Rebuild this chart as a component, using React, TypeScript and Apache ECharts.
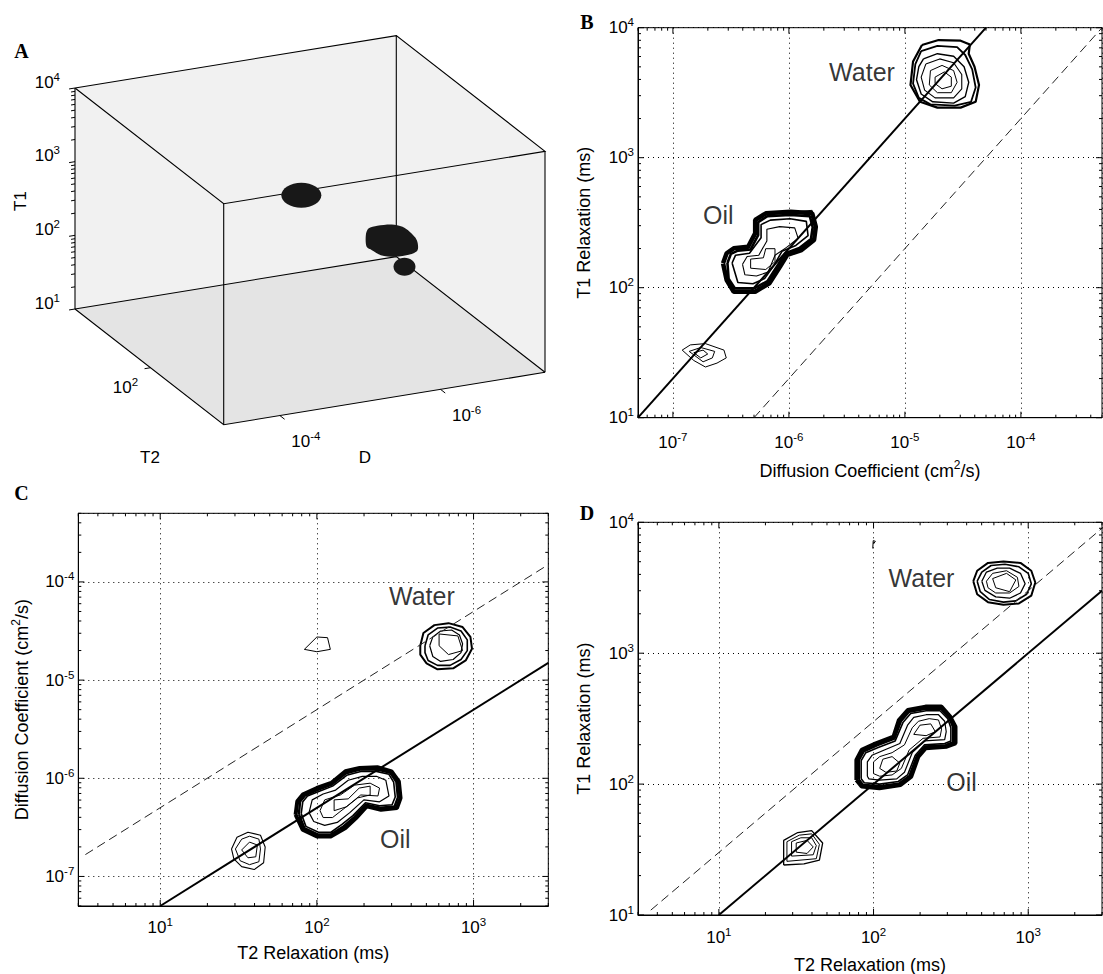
import { useEffect, useRef } from 'react';
import * as echarts from 'echarts';

const FONT = '"Liberation Sans", Arial, Helvetica, sans-serif';
const SERIF = '"Liberation Serif", "Times New Roman", serif';

// ---------- axis ranges ----------
const D_RANGE = [5e-8, 5e-4]; // cm2/s
const T1_RANGE = [10, 1e4]; // ms
const T2_RANGE = [3, 3000]; // ms

// ---------- Panel B : contours in [log10 D, log10 T1] ----------
const bWaterRings = [
  [[-4.853, 3.867], [-4.71, 3.905], [-4.52, 3.9], [-4.44, 3.87], [-4.45, 3.8], [-4.4, 3.7], [-4.361, 3.56], [-4.39, 3.43], [-4.52, 3.385], [-4.72, 3.385], [-4.87, 3.43], [-4.952, 3.559], [-4.93, 3.74], [-4.853, 3.867]],
  [[-4.86, 3.82], [-4.72, 3.86], [-4.55, 3.85], [-4.48, 3.79], [-4.42, 3.68], [-4.39, 3.54], [-4.43, 3.43], [-4.57, 3.4], [-4.78, 3.41], [-4.88, 3.46], [-4.93, 3.57], [-4.91, 3.72], [-4.86, 3.82]],
  [[-4.84, 3.76], [-4.72, 3.8], [-4.58, 3.78], [-4.49, 3.7], [-4.45, 3.58], [-4.48, 3.47], [-4.58, 3.42], [-4.76, 3.43], [-4.86, 3.49], [-4.9, 3.6], [-4.88, 3.7], [-4.84, 3.76]],
  [[-4.82, 3.72], [-4.7, 3.76], [-4.58, 3.73], [-4.51, 3.64], [-4.51, 3.53], [-4.58, 3.46], [-4.74, 3.46], [-4.83, 3.52], [-4.86, 3.62], [-4.82, 3.72]],
  [[-4.78, 3.67], [-4.68, 3.71], [-4.58, 3.67], [-4.55, 3.58], [-4.6, 3.5], [-4.72, 3.5], [-4.79, 3.56], [-4.78, 3.67]],
  [[-4.74, 3.62], [-4.66, 3.66], [-4.6, 3.62], [-4.6, 3.55], [-4.68, 3.53], [-4.74, 3.57], [-4.74, 3.62]],
];
const bOilRings = [
  [[-6.568, 2.188], [-6.537, 2.265], [-6.476, 2.303], [-6.352, 2.315], [-6.291, 2.418], [-6.291, 2.521], [-6.199, 2.572], [-5.984, 2.585], [-5.799, 2.572], [-5.768, 2.469], [-5.783, 2.367], [-5.891, 2.29], [-6.014, 2.252], [-6.076, 2.162], [-6.168, 2.034], [-6.291, 1.969], [-6.476, 1.969], [-6.537, 2.059], [-6.568, 2.188]],
  [[-6.53, 2.19], [-6.5, 2.26], [-6.44, 2.285], [-6.33, 2.295], [-6.265, 2.405], [-6.265, 2.505], [-6.185, 2.55], [-5.99, 2.56], [-5.82, 2.55], [-5.795, 2.465], [-5.81, 2.375], [-5.91, 2.305], [-6.03, 2.265], [-6.095, 2.175], [-6.185, 2.05], [-6.3, 1.995], [-6.465, 1.995], [-6.52, 2.07], [-6.53, 2.19]],
  [[-6.49, 2.19], [-6.46, 2.25], [-6.34, 2.265], [-6.24, 2.385], [-6.24, 2.485], [-6.16, 2.52], [-5.99, 2.53], [-5.85, 2.51], [-5.835, 2.4], [-5.94, 2.325], [-6.06, 2.28], [-6.13, 2.17], [-6.21, 2.07], [-6.31, 2.03], [-6.44, 2.04], [-6.49, 2.19]],
  [[-6.4, 2.18], [-6.36, 2.24], [-6.26, 2.25], [-6.19, 2.36], [-6.19, 2.45], [-6.08, 2.47], [-5.95, 2.46], [-5.92, 2.38], [-6.02, 2.31], [-6.12, 2.25], [-6.18, 2.12], [-6.28, 2.09], [-6.38, 2.1], [-6.4, 2.18]],
  [[-6.33, 2.15], [-6.33, 2.22], [-6.22, 2.23], [-6.2, 2.3], [-6.12, 2.3], [-6.12, 2.2], [-6.2, 2.14], [-6.33, 2.15]],
  [[-5.95, 2.585], [-5.8, 2.595], [-5.78, 2.53]],
];
const bSmallRings = [
  [[-6.92, 1.52], [-6.85, 1.56], [-6.72, 1.57], [-6.56, 1.52], [-6.54, 1.46], [-6.62, 1.42], [-6.72, 1.39], [-6.82, 1.44], [-6.92, 1.52]],
  [[-6.86, 1.51], [-6.76, 1.54], [-6.64, 1.51], [-6.66, 1.46], [-6.74, 1.43], [-6.86, 1.51]],
  [[-6.82, 1.5], [-6.74, 1.52], [-6.7, 1.49], [-6.76, 1.46], [-6.82, 1.5]],
];
const bSolidLine = [[5e-8, 10], [5e-5, 1e4]];
const bDashedLine = [[5e-7, 10], [5e-4, 1e4]];
const bTextLabels = [
  { text: 'Water', at: [-5.37, 3.662] },
  { text: 'Oil', at: [-6.608, 2.559] },
];

// ---------- Panel C : contours in [log10 T2, log10 D] ----------
const cWaterRings = [
  [[2.66, -4.65], [2.68, -4.52], [2.75, -4.44], [2.84, -4.42], [2.93, -4.46], [2.98, -4.56], [2.99, -4.68], [2.95, -4.8], [2.87, -4.88], [2.77, -4.89], [2.7, -4.83], [2.66, -4.74], [2.66, -4.65]],
  [[2.69, -4.65], [2.71, -4.54], [2.77, -4.47], [2.85, -4.46], [2.92, -4.5], [2.96, -4.59], [2.96, -4.7], [2.92, -4.79], [2.85, -4.85], [2.77, -4.85], [2.71, -4.8], [2.69, -4.72], [2.69, -4.65]],
  [[2.72, -4.65], [2.74, -4.56], [2.79, -4.5], [2.86, -4.49], [2.91, -4.54], [2.93, -4.63], [2.92, -4.72], [2.87, -4.79], [2.79, -4.81], [2.74, -4.76], [2.72, -4.65]],
  [[2.78, -4.53], [2.9, -4.55], [2.93, -4.7], [2.84, -4.74], [2.78, -4.65], [2.78, -4.53]],
];
const cStrayRings = [
  [[1.92, -4.687], [2.0, -4.561], [2.068, -4.568], [2.086, -4.687], [2.0, -4.711], [1.92, -4.687]],
];
const cOilRings = [
  [[1.864, -6.371], [1.875, -6.235], [1.909, -6.167], [2.0, -6.099], [2.091, -6.048], [2.182, -5.929], [2.273, -5.895], [2.386, -5.888], [2.477, -5.929], [2.523, -6.031], [2.534, -6.201], [2.511, -6.303], [2.409, -6.32], [2.318, -6.286], [2.25, -6.405], [2.182, -6.507], [2.091, -6.592], [2.0, -6.592], [1.909, -6.524], [1.864, -6.371]],
  [[1.885, -6.365], [1.893, -6.237], [1.925, -6.175], [2.01, -6.115], [2.095, -6.065], [2.186, -5.95], [2.276, -5.912], [2.383, -5.909], [2.468, -5.945], [2.507, -6.035], [2.517, -6.195], [2.496, -6.287], [2.405, -6.3], [2.314, -6.268], [2.24, -6.393], [2.171, -6.489], [2.09, -6.571], [2.005, -6.571], [1.92, -6.507], [1.885, -6.365]],
  [[1.9, -6.36], [1.91, -6.24], [1.94, -6.18], [2.02, -6.13], [2.1, -6.08], [2.19, -5.97], [2.28, -5.93], [2.38, -5.93], [2.46, -5.96], [2.49, -6.04], [2.5, -6.19], [2.48, -6.27], [2.4, -6.28], [2.31, -6.25], [2.23, -6.38], [2.16, -6.47], [2.09, -6.55], [2.01, -6.55], [1.93, -6.49], [1.9, -6.36]],
  [[1.95, -6.35], [1.97, -6.22], [2.04, -6.16], [2.12, -6.12], [2.2, -6.02], [2.29, -5.98], [2.38, -5.98], [2.44, -6.02], [2.46, -6.18], [2.4, -6.24], [2.3, -6.22], [2.21, -6.35], [2.13, -6.45], [2.05, -6.48], [1.98, -6.44], [1.95, -6.35]],
  [[2.02, -6.33], [2.05, -6.22], [2.15, -6.17], [2.24, -6.07], [2.34, -6.05], [2.4, -6.1], [2.39, -6.18], [2.28, -6.17], [2.18, -6.3], [2.1, -6.4], [2.04, -6.4], [2.02, -6.33]],
  [[2.11, -6.33], [2.11, -6.22], [2.2, -6.21], [2.27, -6.1], [2.34, -6.08], [2.34, -6.17], [2.26, -6.2], [2.19, -6.29], [2.11, -6.33]],
];
const cSmallRings = [
  [[1.455, -6.72], [1.49, -6.6], [1.56, -6.55], [1.64, -6.58], [1.67, -6.7], [1.66, -6.86], [1.6, -6.93], [1.52, -6.9], [1.47, -6.82], [1.455, -6.72]],
  [[1.48, -6.72], [1.52, -6.62], [1.57, -6.59], [1.63, -6.62], [1.64, -6.72], [1.63, -6.85], [1.57, -6.88], [1.51, -6.84], [1.48, -6.72]],
  [[1.52, -6.73], [1.57, -6.65], [1.62, -6.68], [1.61, -6.8], [1.56, -6.81], [1.52, -6.73]],
];
const cSolidLine = [[10, 5e-8], [3000, 1.5e-5]];
const cDashedLine = [[3.33, 1.67e-7], [3000, 1.5e-4]];
const cTextLabels = [
  { text: 'Water', at: [2.67, -4.143] },
  { text: 'Oil', at: [2.5, -6.622] },
];

// ---------- Panel D : contours in [log10 T2, log10 T1] ----------
const dWaterRings = [
  [[2.645, 3.55], [2.67, 3.63], [2.74, 3.69], [2.84, 3.7], [2.95, 3.69], [3.02, 3.63], [3.046, 3.54], [3.02, 3.44], [2.94, 3.38], [2.84, 3.37], [2.74, 3.39], [2.67, 3.45], [2.645, 3.55]],
  [[2.67, 3.55], [2.7, 3.62], [2.76, 3.67], [2.85, 3.68], [2.94, 3.66], [3.0, 3.61], [3.02, 3.53], [2.99, 3.45], [2.92, 3.4], [2.84, 3.39], [2.75, 3.41], [2.69, 3.47], [2.67, 3.55]],
  [[2.7, 3.55], [2.73, 3.62], [2.8, 3.65], [2.88, 3.65], [2.95, 3.61], [2.98, 3.53], [2.95, 3.46], [2.88, 3.42], [2.79, 3.43], [2.72, 3.48], [2.7, 3.55]],
  [[2.73, 3.55], [2.77, 3.61], [2.86, 3.63], [2.93, 3.58], [2.94, 3.51], [2.88, 3.46], [2.79, 3.46], [2.74, 3.5], [2.73, 3.55]],
  [[2.77, 3.57], [2.86, 3.61], [2.92, 3.56], [2.88, 3.47], [2.79, 3.5], [2.77, 3.57]],
];
const dStrayRings = [
  [[1.995, 3.8], [1.998, 3.86], [2.012, 3.855], [2.0, 3.835]],
];
const dOilRings = [
  [[1.889, 2.032], [1.889, 2.184], [1.923, 2.261], [2.015, 2.312], [2.129, 2.363], [2.164, 2.49], [2.221, 2.566], [2.336, 2.592], [2.439, 2.592], [2.496, 2.515], [2.53, 2.439], [2.53, 2.312], [2.473, 2.286], [2.336, 2.273], [2.29, 2.21], [2.244, 2.057], [2.175, 1.993], [2.038, 1.968], [1.923, 1.981], [1.889, 2.032]],
  [[1.905, 2.036], [1.905, 2.182], [1.937, 2.25], [2.022, 2.296], [2.135, 2.347], [2.177, 2.48], [2.23, 2.553], [2.338, 2.576], [2.435, 2.576], [2.488, 2.508], [2.515, 2.435], [2.515, 2.321], [2.466, 2.298], [2.333, 2.287], [2.28, 2.215], [2.232, 2.063], [2.167, 2.006], [2.039, 1.984], [1.931, 1.995], [1.905, 2.036]],
  [[1.92, 2.04], [1.92, 2.18], [1.95, 2.24], [2.03, 2.28], [2.14, 2.33], [2.19, 2.47], [2.24, 2.54], [2.34, 2.56], [2.43, 2.56], [2.48, 2.5], [2.5, 2.43], [2.5, 2.33], [2.46, 2.31], [2.33, 2.3], [2.27, 2.22], [2.22, 2.07], [2.16, 2.02], [2.04, 2.0], [1.94, 2.01], [1.92, 2.04]],
  [[1.96, 2.06], [1.96, 2.17], [1.99, 2.22], [2.07, 2.26], [2.17, 2.31], [2.22, 2.45], [2.26, 2.51], [2.34, 2.53], [2.42, 2.53], [2.46, 2.48], [2.47, 2.4], [2.46, 2.34], [2.33, 2.33], [2.25, 2.24], [2.2, 2.09], [2.15, 2.04], [2.04, 2.03], [1.97, 2.04], [1.96, 2.06]],
  [[2.0, 2.08], [2.0, 2.17], [2.04, 2.21], [2.12, 2.24], [2.2, 2.3], [2.25, 2.43], [2.29, 2.48], [2.36, 2.5], [2.42, 2.49], [2.44, 2.42], [2.43, 2.36], [2.32, 2.35], [2.23, 2.26], [2.18, 2.12], [2.12, 2.07], [2.04, 2.06], [2.0, 2.08]],
  [[2.04, 2.12], [2.06, 2.19], [2.12, 2.21], [2.17, 2.16], [2.15, 2.1], [2.08, 2.09], [2.04, 2.12]],
  [[2.26, 2.38], [2.3, 2.45], [2.37, 2.46], [2.4, 2.4], [2.34, 2.37], [2.26, 2.38]],
];
const dSmallRings = [
  [[1.419, 1.382], [1.419, 1.57], [1.51, 1.63], [1.6, 1.645], [1.671, 1.55], [1.65, 1.42], [1.55, 1.39], [1.419, 1.382]],
  [[1.44, 1.41], [1.44, 1.56], [1.52, 1.61], [1.6, 1.62], [1.65, 1.54], [1.63, 1.43], [1.44, 1.41]],
  [[1.47, 1.45], [1.47, 1.56], [1.53, 1.59], [1.6, 1.59], [1.63, 1.53], [1.61, 1.46], [1.47, 1.45]],
  [[1.5, 1.48], [1.5, 1.55], [1.57, 1.57], [1.61, 1.52], [1.57, 1.47], [1.5, 1.48]],
];
const dSolidLine = [[10, 10], [3000, 3000]];
const dDashedLine = [[3.63, 10.9], [3333, 1e4]];
const dTextLabels = [
  { text: 'Water', at: [2.31, 3.572] },
  { text: 'Oil', at: [2.569, 2.019] },
];

// ---------- Panel A : 3D peaks [T2 (ms), D (cm2/s), T1 (ms)] ----------
const aWaterPeak = [700, 2.2e-5, 3500];
const aOilPeak = [150, 6.5e-7, 200];
const aOilSmallPeak = [35, 1.8e-7, 33];
const aT1TickLabels = [10, 100, 1000, 10000];
const aT2TickLabels = [100];
const aDTickLabels = [1e-4, 1e-6];

// ---------- helpers ----------
const lg = Math.log10;
const supLabel = (v: number) => `{b|10}{s|${Math.round(lg(v))}}`;
const TICK_RICH = {
  b: { fontFamily: FONT, fontSize: 17, color: '#000', lineHeight: 23 },
  s: { fontFamily: FONT, fontSize: 11.5, color: '#000', verticalAlign: 'top' },
};

function decadeTicks(lo: number, hi: number) {
  const major: number[] = [];
  const minor: number[] = [];
  for (let k = Math.floor(lg(lo)); k <= Math.ceil(lg(hi)); k++) {
    for (let m = 1; m <= 9; m++) {
      const v = m * Math.pow(10, k);
      if (v < lo * 0.9999 || v > hi * 1.0001) continue;
      (m === 1 ? major : minor).push(v);
    }
  }
  return { major, minor };
}

function logAxis(gi: number, range: number[], name: string, nameGap: number, margin: number, hideEnds: boolean) {
  return {
    type: 'log',
    logBase: 10,
    gridIndex: gi,
    min: range[0],
    max: range[1],
    name,
    nameLocation: 'middle',
    nameGap,
    nameMoveOverlap: false,
    nameTextStyle: {
      fontFamily: FONT,
      fontSize: 18,
      color: '#000',
      lineHeight: 24,
      rich: { s: { fontFamily: FONT, fontSize: 12, color: '#000', verticalAlign: 'top' } },
    },
    axisLine: { show: true, lineStyle: { color: '#000', width: 1 } },
    axisTick: { show: false },
    minorTick: { show: false },
    splitLine: { show: true, lineStyle: { color: '#000', width: 1, type: [1, 4] } },
    axisLabel: {
      formatter: supLabel,
      rich: TICK_RICH,
      margin,
      showMinLabel: !hideEnds,
      showMaxLabel: !hideEnds,
    },
  };
}

function tickSeries(gi: number, xr: number[], yr: number[]) {
  return {
    type: 'custom',
    xAxisIndex: gi,
    yAxisIndex: gi,
    silent: true,
    z: 6,
    data: [[xr[0], yr[0]]],
    renderItem: (params: any, api: any) => {
      const cs = params.coordSys;
      const x0 = cs.x;
      const x1 = cs.x + cs.width;
      const y0 = cs.y;
      const y1 = cs.y + cs.height;
      const xt = decadeTicks(xr[0], xr[1]);
      const yt = decadeTicks(yr[0], yr[1]);
      const children: any[] = [];
      const seg = (a: number, b: number, c: number, d: number) =>
        children.push({ type: 'line', shape: { x1: a, y1: b, x2: c, y2: d }, style: { stroke: '#000', lineWidth: 1 } });
      const xs = (list: number[], len: number) =>
        list.forEach((v) => {
          const p = api.coord([v, yr[0]])[0];
          seg(p, y1, p, y1 - len);
          seg(p, y0, p, y0 + len);
        });
      const ys = (list: number[], len: number) =>
        list.forEach((v) => {
          const p = api.coord([xr[0], v])[1];
          seg(x0, p, x0 + len, p);
          seg(x1, p, x1 - len, p);
        });
      xs(xt.major, 6);
      xs(xt.minor, 3);
      ys(yt.major, 6);
      ys(yt.minor, 3);
      return { type: 'group', children };
    },
  };
}

function ringSeries(rings: number[][][], gi: number, widths: number[]) {
  return rings.map((ring, i) => ({
    type: 'line',
    xAxisIndex: gi,
    yAxisIndex: gi,
    silent: true,
    symbol: 'none',
    z: 4,
    data: ring.map(([a, b]) => [Math.pow(10, a), Math.pow(10, b)]),
    lineStyle: { color: '#000', width: widths[Math.min(i, widths.length - 1)] },
  }));
}

function fitLine(pts: number[][], gi: number, dashed: boolean) {
  return {
    type: 'line',
    xAxisIndex: gi,
    yAxisIndex: gi,
    silent: true,
    symbol: 'none',
    z: 5,
    data: pts,
    lineStyle: dashed ? { color: '#222', width: 1, type: [9, 5] } : { color: '#000', width: 2 },
  };
}

function textSeries(labels: { text: string; at: number[] }[], gi: number) {
  return {
    type: 'scatter',
    xAxisIndex: gi,
    yAxisIndex: gi,
    silent: true,
    symbolSize: 1,
    z: 7,
    itemStyle: { color: 'rgba(0,0,0,0)' },
    data: labels.map((l) => ({ value: [Math.pow(10, l.at[0]), Math.pow(10, l.at[1])], name: l.text })),
    label: { show: true, position: 'inside', formatter: '{b}', fontFamily: FONT, fontSize: 25, color: '#000' },
  };
}

// ---------- Panel A projection (layout of the 3D box on screen) ----------
const A_CORNER = [75, 309]; // (T2 min, D max, T1 min)
const A_VEC_T2 = [148.7, 115.7];
const A_VEC_D = [321.3, -52.4];
const A_VEC_T1 = [0, -221];

function projA(t2: number, d: number, t1: number) {
  const f2 = (lg(t2) - lg(T2_RANGE[0])) / (lg(T2_RANGE[1]) - lg(T2_RANGE[0]));
  const fd = (lg(D_RANGE[1]) - lg(d)) / (lg(D_RANGE[1]) - lg(D_RANGE[0]));
  const f1 = (lg(t1) - lg(T1_RANGE[0])) / (lg(T1_RANGE[1]) - lg(T1_RANGE[0]));
  return [
    A_CORNER[0] + f2 * A_VEC_T2[0] + fd * A_VEC_D[0] + f1 * A_VEC_T1[0],
    A_CORNER[1] + f2 * A_VEC_T2[1] + fd * A_VEC_D[1] + f1 * A_VEC_T1[1],
  ];
}

function panelAGraphics() {
  const [t2lo, t2hi] = T2_RANGE;
  const [dlo, dhi] = D_RANGE;
  const [t1lo, t1hi] = T1_RANGE;
  const L = projA(t2lo, dhi, t1lo);
  const F = projA(t2hi, dhi, t1lo);
  const R = projA(t2hi, dlo, t1lo);
  const K = projA(t2lo, dlo, t1lo);
  const Lt = projA(t2lo, dhi, t1hi);
  const Ft = projA(t2hi, dhi, t1hi);
  const Rt = projA(t2hi, dlo, t1hi);
  const Kt = projA(t2lo, dlo, t1hi);
  const edge = { stroke: '#000', lineWidth: 1.1, fill: null };
  const els: any[] = [
    { type: 'polygon', z: 1, shape: { points: [L, K, Kt, Lt] }, style: { fill: '#f1f1f1' } },
    { type: 'polygon', z: 1, shape: { points: [K, R, Rt, Kt] }, style: { fill: '#f1f1f1' } },
    { type: 'polygon', z: 1, shape: { points: [L, F, R, K] }, style: { fill: '#e4e4e4' } },
    { type: 'polyline', z: 2, shape: { points: [Lt, Kt, Rt, Ft, Lt] }, style: edge },
    { type: 'polyline', z: 2, shape: { points: [L, F, R] }, style: edge },
    { type: 'polyline', z: 2, shape: { points: [L, K, R] }, style: edge },
    { type: 'polyline', z: 2, shape: { points: [L, Lt] }, style: edge },
    { type: 'polyline', z: 2, shape: { points: [F, Ft] }, style: edge },
    { type: 'polyline', z: 2, shape: { points: [R, Rt] }, style: edge },
    { type: 'polyline', z: 2, shape: { points: [K, Kt] }, style: edge },
  ];
  const tick = (p: number[], dir: number[], len: number) =>
    els.push({
      type: 'line',
      z: 2,
      shape: { x1: p[0], y1: p[1], x2: p[0] + dir[0] * len, y2: p[1] + dir[1] * len },
      style: { stroke: '#000', lineWidth: 1 },
    });
  const outD = [-0.987, 0.161];
  const outT2 = [0.789, 0.614];
  const t1t = decadeTicks(t1lo, t1hi);
  t1t.major.forEach((v) => tick(projA(t2lo, dhi, v), outD, 6));
  t1t.minor.forEach((v) => tick(projA(t2lo, dhi, v), outD, 4));
  const lab = (x: number, y: number, v: number, align: string) =>
    els.push({
      type: 'text',
      z: 3,
      x,
      y,
      style: { text: supLabel(v), rich: TICK_RICH, align, verticalAlign: 'middle', fill: '#000' },
    });
  aT1TickLabels.forEach((v) => {
    const p = projA(t2lo, dhi, v);
    lab(p[0] - 15, p[1] - 6, v, 'right');
  });
  aT2TickLabels.forEach((v) => {
    const p = projA(v, dhi, t1lo);
    tick(p, outD, 6);
    lab(p[0] - 25, p[1] + 20, v, 'center');
  });
  aDTickLabels.forEach((v) => {
    const p = projA(t2hi, v, t1lo);
    tick(p, outT2, 6);
    lab(p[0] + 26, p[1] + 26, v, 'center');
  });
  const name = (text: string, x: number, y: number, rot: number) =>
    els.push({
      type: 'text',
      z: 3,
      x,
      y,
      rotation: rot,
      style: { text, fontFamily: FONT, fontSize: 17, fill: '#000', align: 'center', verticalAlign: 'middle' },
    });
  name('T1', 20, 201, Math.PI / 2);
  name('T2', 150, 457, 0);
  name('D', 365, 457, 0);
  // peaks
  const w = projA(aWaterPeak[0], aWaterPeak[1], aWaterPeak[2]);
  els.push({ type: 'ellipse', z: 4, shape: { cx: w[0], cy: w[1], rx: 20, ry: 12.5 }, style: { fill: '#181818' } });
  const o = projA(aOilPeak[0], aOilPeak[1], aOilPeak[2]);
  const oilShape = [[-22.6, -12.3], [-13.7, -15], [0.7, -16.3], [11.5, -14], [18.6, -9], [25.8, -0.7], [26.5, 9.3], [18.6, 13.7], [4.3, 16], [-10.1, 14.3], [-19.1, 9.3], [-24.4, 6], [-25.2, -5.7]];
  els.push({
    type: 'polygon',
    z: 4,
    shape: { points: oilShape.map(([dx, dy]) => [o[0] + dx, o[1] + dy]), smooth: 0.3 },
    style: { fill: '#181818' },
  });
  const s = projA(aOilSmallPeak[0], aOilSmallPeak[1], aOilSmallPeak[2]);
  els.push({ type: 'ellipse', z: 4, shape: { cx: s[0], cy: s[1], rx: 11, ry: 9 }, style: { fill: '#181818' } });
  return els;
}

function panelLetter(text: string, x: number, y: number) {
  return {
    type: 'text',
    z: 10,
    x,
    y,
    style: { text, fontFamily: SERIF, fontWeight: 'bold', fontSize: 20, fill: '#000', align: 'center', verticalAlign: 'middle' },
  };
}

export default function App() {
  const ref = useRef<HTMLDivElement>(null);
  useEffect(() => {
    if (!ref.current) return;
    const chart = echarts.init(ref.current, null, { renderer: 'svg' });
    const gridBase = { show: true, borderColor: '#000', borderWidth: 1, containLabel: false, outerBoundsMode: 'none' };
    const DIFF = 'Diffusion Coefficient (cm{s|2}/s)';
    const option: any = {
      animation: false,
      backgroundColor: '#fff',
      grid: [
        { ...gridBase, left: 638, top: 27.7, width: 464, height: 390 },
        { ...gridBase, left: 78.3, top: 513.3, width: 470, height: 392.7 },
        { ...gridBase, left: 638, top: 522.3, width: 464, height: 392.7 },
      ],
      xAxis: [
        logAxis(0, D_RANGE, DIFF, 41, 13, true),
        logAxis(1, T2_RANGE, 'T2 Relaxation (ms)', 35, 10, true),
        logAxis(2, T2_RANGE, 'T2 Relaxation (ms)', 38, 11, true),
      ],
      yAxis: [
        logAxis(0, T1_RANGE, 'T1 Relaxation (ms)', 42, 4, false),
        logAxis(1, D_RANGE, DIFF, 44, 4, true),
        logAxis(2, T1_RANGE, 'T1 Relaxation (ms)', 42, 4, false),
      ],
      series: [
        tickSeries(0, D_RANGE, T1_RANGE),
        tickSeries(1, T2_RANGE, D_RANGE),
        tickSeries(2, T2_RANGE, T1_RANGE),
        ...ringSeries(bWaterRings, 0, [2.2, 1.8, 1.4, 1.1, 1, 1]),
        ...ringSeries(bOilRings, 0, [4.5, 2.6, 1.6, 1.1, 1, 1]),
        ...ringSeries(bSmallRings, 0, [1, 1, 1]),
        fitLine(bSolidLine, 0, false),
        fitLine(bDashedLine, 0, true),
        textSeries(bTextLabels, 0),
        ...ringSeries(cWaterRings, 1, [2, 1.6, 1.2, 1]),
        ...ringSeries(cStrayRings, 1, [1]),
        ...ringSeries(cOilRings, 1, [4, 2.4, 1.6, 1.2, 1, 1]),
        ...ringSeries(cSmallRings, 1, [1.1, 1, 1]),
        fitLine(cSolidLine, 1, false),
        fitLine(cDashedLine, 1, true),
        textSeries(cTextLabels, 1),
        ...ringSeries(dWaterRings, 2, [2, 1.6, 1.3, 1, 1]),
        ...ringSeries(dStrayRings, 2, [1]),
        ...ringSeries(dOilRings, 2, [4, 2.4, 1.6, 1.2, 1, 1, 1]),
        ...ringSeries(dSmallRings, 2, [1.3, 1, 1, 1]),
        fitLine(dSolidLine, 2, false),
        fitLine(dDashedLine, 2, true),
        textSeries(dTextLabels, 2),
      ],
      graphic: [
        ...panelAGraphics(),
        panelLetter('A', 21.5, 51),
        panelLetter('B', 587, 21.7),
        panelLetter('C', 21.5, 493.3),
        panelLetter('D', 587, 513.3),
      ],
    };
    chart.setOption(option);
    return () => chart.dispose();
  }, []);
  return <div ref={ref} style={{ position: 'absolute', left: 0, top: 0, width: 1103, height: 974 }} />;
}
